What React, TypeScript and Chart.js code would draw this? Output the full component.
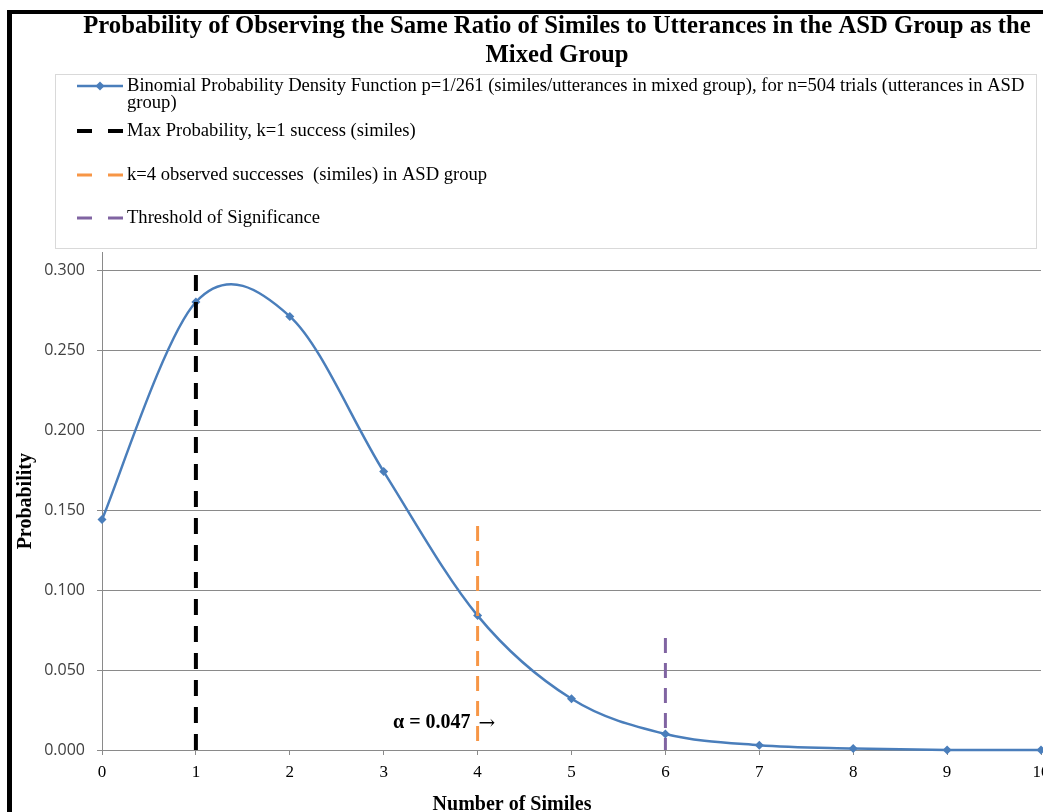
import React, { useEffect, useRef } from 'react';
import { Chart, registerables } from 'chart.js';

Chart.register(...registerables);

// ---------- data ----------
const titleLines = [
  'Probability of Observing the Same Ratio of Similes to Utterances in the ASD Group as the',
  'Mixed Group',
];
const xAxisTitle = 'Number of Similes';
const yAxisTitle = 'Probability';

const similes = [0, 1, 2, 3, 4, 5, 6, 7, 8, 9, 10];
const probability = [0.144, 0.28, 0.271, 0.174, 0.084, 0.032, 0.01, 0.003, 0.001, 0.0, 0.0];

const maxProbX = [1, 1];
const maxProbY = [0, 0.3];
const observedX = [4, 4];
const observedY = [0.14, 0];
const thresholdX = [6, 6];
const thresholdY = [0.07, 0];

const yTickValues = [0, 0.05, 0.1, 0.15, 0.2, 0.25, 0.3];

const seriesLabels = [
  'Binomial Probability Density Function p=1/261 (similes/utterances in mixed group), for n=504 trials (utterances in ASD group)',
  'Max Probability, k=1 success (similes)',
  'k=4 observed successes  (similes) in ASD group',
  'Threshold of Significance',
];

const alphaLabel = 'α = 0.047';
const alphaArrow = '→';
const alphaX = 4;
const alphaY = 0.017;

// ---------- styles ----------
const BLUE = '#4A7EBB';
const ORANGE = '#F79646';
const PURPLE = '#8064A2';
const GRID = '#8a8a8a';
const SERIF = '"Liberation Serif", "Times New Roman", serif';

const toPoints = (xs: number[], ys: number[]) => xs.map((x, i) => ({ x, y: ys[i] }));

function wrapText(ctx: CanvasRenderingContext2D, text: string, maxW: number): string[] {
  const words = text.split(' ');
  const lines: string[] = [];
  let cur = '';
  for (const w of words) {
    const test = cur ? cur + ' ' + w : w;
    if (ctx.measureText(test).width > maxW && cur) {
      lines.push(cur);
      cur = w;
    } else cur = test;
  }
  if (cur) lines.push(cur);
  return lines;
}

// Excel-like smoothing: uniform Catmull-Rom control points
const smoothPlugin = {
  id: 'smooth',
  beforeDatasetDraw(chart: any, args: any) {
    const ds = chart.data.datasets[args.index];
    if (!ds.excelSmooth) return;
    const meta = args.meta;
    const line = meta.dataset;
    line.updateControlPoints(chart.chartArea, meta.iScale.axis);
    const pts = meta.data;
    const n = pts.length;
    for (let i = 0; i < n; i++) {
      const p = pts[i];
      const prev = pts[Math.max(0, i - 1)];
      const next = pts[Math.min(n - 1, i + 1)];
      const tx = (next.x - prev.x) / 6;
      const ty = (next.y - prev.y) / 6;
      p.cp1x = p.x - tx;
      p.cp1y = p.y - ty;
      p.cp2x = p.x + tx;
      p.cp2y = p.y + ty;
    }
  },
};

const decorPlugin = {
  id: 'decor',
  afterDraw(chart: any) {
    const ctx: CanvasRenderingContext2D = chart.ctx;
    const ca = chart.chartArea;
    const xs = chart.scales.x;
    const ys = chart.scales.y;
    ctx.save();

    // title
    ctx.fillStyle = '#000';
    ctx.textAlign = 'center';
    ctx.textBaseline = 'alphabetic';
    ctx.font = `bold 24.7px ${SERIF}`;
    ctx.fillText(titleLines[0], 557, 33);
    ctx.fillText(titleLines[1], 557, 62);

    // legend box
    ctx.strokeStyle = '#d9d9d9';
    ctx.lineWidth = 1;
    ctx.strokeRect(55.5, 74.5, 981, 174);

    const rowY = [86, 131, 175, 218];
    const mx0 = 77;
    const mx1 = 123;
    const tx = 127;
    ctx.font = `18.6px ${SERIF}`;
    ctx.textAlign = 'left';
    ctx.textBaseline = 'middle';
    chart.data.datasets.forEach((ds: any, i: number) => {
      const y = rowY[i];
      ctx.save();
      ctx.strokeStyle = ds.borderColor;
      ctx.lineWidth = ds.borderWidth;
      if (ds.borderDash && ds.borderDash.length) {
        ctx.beginPath();
        ctx.moveTo(mx0, y);
        ctx.lineTo(mx0 + 15, y);
        ctx.moveTo(mx1 - 15, y);
        ctx.lineTo(mx1, y);
        ctx.stroke();
      } else {
        ctx.beginPath();
        ctx.moveTo(mx0, y);
        ctx.lineTo(mx1, y);
        ctx.stroke();
        const cx = (mx0 + mx1) / 2;
        const r = 4.5;
        ctx.fillStyle = ds.borderColor;
        ctx.beginPath();
        ctx.moveTo(cx, y - r);
        ctx.lineTo(cx + r, y);
        ctx.lineTo(cx, y + r);
        ctx.lineTo(cx - r, y);
        ctx.closePath();
        ctx.fill();
      }
      ctx.restore();
      ctx.fillStyle = '#000';
      const lines = wrapText(ctx, ds.label, 900);
      lines.forEach((ln, k) => ctx.fillText(ln, tx, y + k * 17));
    });

    // axis titles
    ctx.font = `bold 20px ${SERIF}`;
    ctx.textAlign = 'center';
    ctx.textBaseline = 'alphabetic';
    ctx.fillText(xAxisTitle, 512, 810);
    ctx.save();
    ctx.translate(31, (ca.top + ca.bottom) / 2);
    ctx.rotate(-Math.PI / 2);
    ctx.fillText(yAxisTitle, 0, 0);
    ctx.restore();

    // alpha annotation
    const px = xs.getPixelForValue(alphaX);
    const py = ys.getPixelForValue(alphaY);
    ctx.textBaseline = 'middle';
    ctx.textAlign = 'right';
    ctx.font = `bold 20px ${SERIF}`;
    ctx.fillText(alphaLabel, px - 7, py);
    ctx.textAlign = 'left';
    ctx.font = `20px "DejaVu Serif", ${SERIF}`;
    ctx.fillText(alphaArrow, px + 1, py + 1);

    ctx.restore();
  },
};

export default function App() {
  const ref = useRef<HTMLCanvasElement | null>(null);

  useEffect(() => {
    if (!ref.current) return;
    const chart = new Chart(ref.current, {
      type: 'line',
      data: {
        datasets: [
          {
            label: seriesLabels[0],
            data: toPoints(similes, probability),
            borderColor: BLUE,
            backgroundColor: BLUE,
            borderWidth: 2.5,
            tension: 0.4,
            excelSmooth: true,
            pointStyle: 'rectRot',
            pointRadius: 4.5,
            pointBorderWidth: 0,
            pointBackgroundColor: BLUE,
            clip: false,
            order: 4,
          },
          {
            label: seriesLabels[1],
            data: toPoints(maxProbX, maxProbY),
            borderColor: '#000000',
            borderWidth: 4,
            borderDash: [16, 11],
            pointRadius: 0,
            order: 1,
          },
          {
            label: seriesLabels[2],
            data: toPoints(observedX, observedY),
            borderColor: ORANGE,
            borderWidth: 3,
            borderDash: [15, 10],
            pointRadius: 0,
            order: 2,
          },
          {
            label: seriesLabels[3],
            data: toPoints(thresholdX, thresholdY),
            borderColor: PURPLE,
            borderWidth: 3,
            borderDash: [15, 10],
            pointRadius: 0,
            order: 3,
          },
        ],
      },
      options: {
        responsive: false,
        animation: false,
        layout: { padding: { top: 252.4, right: 19, left: 0, bottom: 0 } },
        plugins: {
          legend: { display: false },
          title: { display: false },
          tooltip: { enabled: false },
        },
        scales: {
          x: {
            type: 'linear',
            min: 0,
            max: 10,
            ticks: {
              stepSize: 1,
              color: '#000',
              padding: 7,
              font: { family: SERIF, size: 17 },
            },
            grid: { drawOnChartArea: false, drawTicks: true, tickLength: 5, color: GRID },
            border: { color: GRID, width: 1 },
            afterFit: (s: any) => {
              s.height = 62;
            },
          },
          y: {
            type: 'linear',
            min: 0,
            max: 0.311,
            afterBuildTicks: (s: any) => {
              s.ticks = yTickValues.map((v) => ({ value: v }));
            },
            ticks: {
              color: '#404040',
              padding: 12,
              font: { family: '"Open Sans", sans-serif', size: 16 },
              callback: (v: any) => Number(v).toFixed(3),
            },
            grid: { color: GRID, tickLength: 5 },
            border: { color: GRID, width: 1 },
            afterFit: (s: any) => {
              s.width = 102;
            },
          },
        },
      },
      plugins: [smoothPlugin, decorPlugin],
    } as any);
    return () => chart.destroy();
  }, []);

  return (
    <div
      style={{
        position: 'absolute',
        left: 0,
        top: 0,
        width: 1043,
        height: 812,
        overflow: 'hidden',
        background: '#fff',
      }}
    >
      <div
        style={{
          position: 'absolute',
          left: 7,
          top: 10,
          width: 1100,
          height: 900,
          borderLeft: '5px solid #000',
          borderTop: '4px solid #000',
        }}
      />
      <canvas
        ref={ref}
        width={1060}
        height={812}
        style={{ position: 'absolute', left: 0, top: 0, width: 1060, height: 812 }}
      />
    </div>
  );
}
